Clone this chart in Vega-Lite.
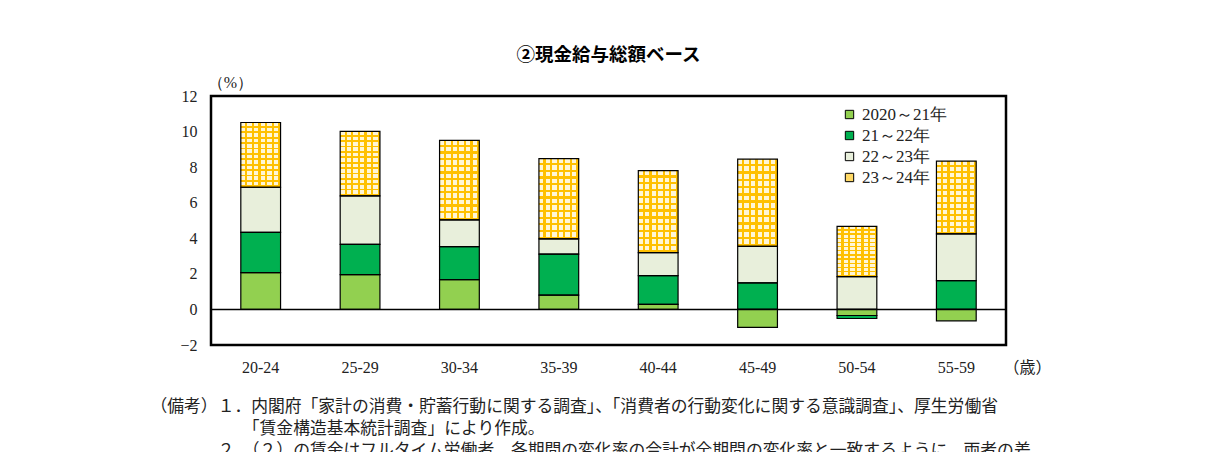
{
  "$schema": "https://vega.github.io/schema/vega-lite/v6.json",
  "autosize": {"type": "none"},
  "padding": {"left": 211, "top": 96, "right": 203, "bottom": 107},
  "width": 795,
  "height": 249,
  "background": "white",
  "title": {
    "text": "②現金給与総額ベース",
    "font": "Noto Sans CJK JP",
    "fontSize": 18.5,
    "fontWeight": "bold",
    "anchor": "middle",
    "offset": 10
  },
  "data": {
    "values": [
      {"age": "20-24", "period": "2020～21年", "value": 2.07},
      {"age": "20-24", "period": "21～22年", "value": 2.26},
      {"age": "20-24", "period": "22～23年", "value": 2.54},
      {"age": "20-24", "period": "23～24年", "value": 3.64},
      {"age": "25-29", "period": "2020～21年", "value": 1.96},
      {"age": "25-29", "period": "21～22年", "value": 1.70},
      {"age": "25-29", "period": "22～23年", "value": 2.73},
      {"age": "25-29", "period": "23～24年", "value": 3.62},
      {"age": "30-34", "period": "2020～21年", "value": 1.68},
      {"age": "30-34", "period": "21～22年", "value": 1.85},
      {"age": "30-34", "period": "22～23年", "value": 1.51},
      {"age": "30-34", "period": "23～24年", "value": 4.46},
      {"age": "35-39", "period": "2020～21年", "value": 0.80},
      {"age": "35-39", "period": "21～22年", "value": 2.31},
      {"age": "35-39", "period": "22～23年", "value": 0.86},
      {"age": "35-39", "period": "23～24年", "value": 4.51},
      {"age": "40-44", "period": "2020～21年", "value": 0.28},
      {"age": "40-44", "period": "21～22年", "value": 1.62},
      {"age": "40-44", "period": "22～23年", "value": 1.29},
      {"age": "40-44", "period": "23～24年", "value": 4.61},
      {"age": "45-49", "period": "2020～21年", "value": -1.01},
      {"age": "45-49", "period": "21～22年", "value": 1.49},
      {"age": "45-49", "period": "22～23年", "value": 2.05},
      {"age": "45-49", "period": "23～24年", "value": 4.91},
      {"age": "50-54", "period": "2020～21年", "value": -0.34},
      {"age": "50-54", "period": "21～22年", "value": -0.17},
      {"age": "50-54", "period": "22～23年", "value": 1.85},
      {"age": "50-54", "period": "23～24年", "value": 2.82},
      {"age": "55-59", "period": "2020～21年", "value": -0.64},
      {"age": "55-59", "period": "21～22年", "value": 1.62},
      {"age": "55-59", "period": "22～23年", "value": 2.63},
      {"age": "55-59", "period": "23～24年", "value": 4.09}
    ]
  },
  "layer": [
    {
      "mark": {"type": "bar", "strokeWidth": 0},
      "encoding": {
        "x": {
          "field": "age",
          "type": "nominal",
          "sort": null,
          "scale": {"paddingInner": 0.6, "paddingOuter": 0.3},
          "axis": {
            "labelAngle": 0,
            "labelFont": "Liberation Serif",
            "labelFontSize": 16,
            "labelColor": "#222",
            "labelPadding": 14,
            "ticks": false,
            "domain": false,
            "title": [
              "（備考）１．内閣府「家計の消費・貯蓄行動に関する調査」、「消費者の行動変化に関する意識調査」、厚生労働省",
              "\u200b　　　　　\u2002「賃金構造基本統計調査」により作成。",
              "\u200b　　　　２．（２）の賃金はフルタイム労働者。各期間の変化率の合計が全期間の変化率と一致するように、両者の差"
            ],
            "titleFont": "Noto Sans CJK JP",
            "titleFontSize": 16.8,
            "titleFontWeight": "normal",
            "titleColor": "#222",
            "titleAlign": "left",
            "titleBaseline": "top",
            "titleLineHeight": 22,
            "titleX": -61,
            "titleY": 53
          }
        },
        "y": {
          "field": "value",
          "type": "quantitative",
          "stack": "zero",
          "scale": {"domain": [-2, 12], "nice": false},
          "axis": {
            "values": [-2, 0, 2, 4, 6, 8, 10, 12],
            "labelFont": "Liberation Serif",
            "labelFontSize": 16,
            "labelColor": "#222",
            "labelPadding": 14,
            "ticks": false,
            "domain": false,
            "grid": false,
            "title": "（%）",
            "titleFont": "Liberation Serif",
            "titleFontSize": 16,
            "titleFontWeight": "normal",
            "titleColor": "#222",
            "titleAngle": 0,
            "titleAlign": "center",
            "titleBaseline": "middle",
            "titleX": 19,
            "titleY": -14
          }
        },
        "color": {
          "field": "period",
          "type": "nominal",
          "scale": {
            "domain": ["2020～21年", "21～22年", "22～23年", "23～24年"],
            "range": ["#92d050", "#00b050", "#e8efdb", "#ffd966"]
          },
          "legend": {
            "title": null,
            "orient": "none",
            "legendX": 630,
            "legendY": 10,
            "symbolType": "square",
            "symbolSize": 70,
            "symbolStrokeColor": "black",
            "symbolStrokeWidth": 1,
            "labelFont": "Liberation Serif",
            "labelFontSize": 17,
            "labelColor": "#222",
            "labelOffset": 4,
            "rowPadding": 3
          }
        },
        "order": {"field": "period"}
      }
    },
    {
      "mark": {"type": "bar", "strokeWidth": 0},
      "encoding": {
        "x": {"field": "age", "type": "nominal", "sort": null},
        "y": {"field": "value", "type": "quantitative", "stack": "zero", "axis": null},
        "detail": {"field": "period"},
        "order": {"field": "period"},
        "fill": {
          "condition": {
            "test": "datum.period === '23～24年'",
            "value": {
              "gradient": "linear", "x1": 0, "y1": 0, "x2": 1, "y2": 0,
              "stops": [
                {"offset": 0, "color": "#fff6d5"}, {"offset": 0.1111, "color": "#fff6d5"},
                {"offset": 0.1111, "color": "#ffc000"}, {"offset": 0.1667, "color": "#ffc000"},
                {"offset": 0.1667, "color": "#fff6d5"}, {"offset": 0.2778, "color": "#fff6d5"},
                {"offset": 0.2778, "color": "#ffc000"}, {"offset": 0.3333, "color": "#ffc000"},
                {"offset": 0.3333, "color": "#fff6d5"}, {"offset": 0.4444, "color": "#fff6d5"},
                {"offset": 0.4444, "color": "#ffc000"}, {"offset": 0.5, "color": "#ffc000"},
                {"offset": 0.5, "color": "#fff6d5"}, {"offset": 0.6111, "color": "#fff6d5"},
                {"offset": 0.6111, "color": "#ffc000"}, {"offset": 0.6667, "color": "#ffc000"},
                {"offset": 0.6667, "color": "#fff6d5"}, {"offset": 0.7778, "color": "#fff6d5"},
                {"offset": 0.7778, "color": "#ffc000"}, {"offset": 0.8333, "color": "#ffc000"},
                {"offset": 0.8333, "color": "#fff6d5"}, {"offset": 0.9444, "color": "#fff6d5"},
                {"offset": 0.9444, "color": "#ffc000"}, {"offset": 1, "color": "#ffc000"}
              ]
            }
          },
          "value": "transparent"
        }
      }
    },
    {
      "mark": {"type": "bar", "strokeWidth": 0},
      "encoding": {
        "x": {"field": "age", "type": "nominal", "sort": null},
        "y": {"field": "value", "type": "quantitative", "stack": "zero", "axis": null},
        "detail": {"field": "period"},
        "order": {"field": "period"},
        "fill": {
          "condition": {
            "test": "datum.period === '23～24年'",
            "value": {
              "gradient": "linear", "x1": 0, "y1": 0, "x2": 0, "y2": 1,
              "stops": [
                {"offset": 0, "color": "rgba(255,192,0,0)"}, {"offset": 0.0556, "color": "rgba(255,192,0,0)"},
                {"offset": 0.0556, "color": "#ffc000"}, {"offset": 0.0833, "color": "#ffc000"},
                {"offset": 0.0833, "color": "rgba(255,192,0,0)"}, {"offset": 0.1389, "color": "rgba(255,192,0,0)"},
                {"offset": 0.1389, "color": "#ffc000"}, {"offset": 0.1667, "color": "#ffc000"},
                {"offset": 0.1667, "color": "rgba(255,192,0,0)"}, {"offset": 0.2222, "color": "rgba(255,192,0,0)"},
                {"offset": 0.2222, "color": "#ffc000"}, {"offset": 0.25, "color": "#ffc000"},
                {"offset": 0.25, "color": "rgba(255,192,0,0)"}, {"offset": 0.3056, "color": "rgba(255,192,0,0)"},
                {"offset": 0.3056, "color": "#ffc000"}, {"offset": 0.3333, "color": "#ffc000"},
                {"offset": 0.3333, "color": "rgba(255,192,0,0)"}, {"offset": 0.3889, "color": "rgba(255,192,0,0)"},
                {"offset": 0.3889, "color": "#ffc000"}, {"offset": 0.4167, "color": "#ffc000"},
                {"offset": 0.4167, "color": "rgba(255,192,0,0)"}, {"offset": 0.4722, "color": "rgba(255,192,0,0)"},
                {"offset": 0.4722, "color": "#ffc000"}, {"offset": 0.5, "color": "#ffc000"},
                {"offset": 0.5, "color": "rgba(255,192,0,0)"}, {"offset": 0.5556, "color": "rgba(255,192,0,0)"},
                {"offset": 0.5556, "color": "#ffc000"}, {"offset": 0.5833, "color": "#ffc000"},
                {"offset": 0.5833, "color": "rgba(255,192,0,0)"}, {"offset": 0.6389, "color": "rgba(255,192,0,0)"},
                {"offset": 0.6389, "color": "#ffc000"}, {"offset": 0.6667, "color": "#ffc000"},
                {"offset": 0.6667, "color": "rgba(255,192,0,0)"}, {"offset": 0.7222, "color": "rgba(255,192,0,0)"},
                {"offset": 0.7222, "color": "#ffc000"}, {"offset": 0.75, "color": "#ffc000"},
                {"offset": 0.75, "color": "rgba(255,192,0,0)"}, {"offset": 0.8056, "color": "rgba(255,192,0,0)"},
                {"offset": 0.8056, "color": "#ffc000"}, {"offset": 0.8333, "color": "#ffc000"},
                {"offset": 0.8333, "color": "rgba(255,192,0,0)"}, {"offset": 0.8889, "color": "rgba(255,192,0,0)"},
                {"offset": 0.8889, "color": "#ffc000"}, {"offset": 0.9167, "color": "#ffc000"},
                {"offset": 0.9167, "color": "rgba(255,192,0,0)"}, {"offset": 0.9722, "color": "rgba(255,192,0,0)"},
                {"offset": 0.9722, "color": "#ffc000"}, {"offset": 1, "color": "#ffc000"}
              ]
            }
          },
          "value": "transparent"
        }
      }
    },
    {
      "mark": {"type": "bar", "fill": "transparent", "stroke": "black", "strokeWidth": 1.2},
      "encoding": {
        "x": {"field": "age", "type": "nominal", "sort": null},
        "y": {"field": "value", "type": "quantitative", "stack": "zero", "axis": null},
        "detail": {"field": "period"},
        "order": {"field": "period"}
      }
    },
    {
      "data": {"values": [{}]},
      "mark": {"type": "rule", "color": "black", "strokeWidth": 1.5},
      "encoding": {
        "y": {
          "datum": 0,
          "axis": {
            "orient": "right",
            "labels": false,
            "ticks": false,
            "domain": false,
            "grid": false,
            "title": "（歳）",
            "titleFont": "Noto Sans CJK JP",
            "titleFontSize": 16,
            "titleFontWeight": "normal",
            "titleColor": "#222",
            "titleAngle": 0,
            "titleAlign": "center",
            "titleBaseline": "middle",
            "titleX": 21,
            "titleY": 271
          }
        }
      }
    }
  ],
  "resolve": {"axis": {"y": "independent"}},
  "config": {
    "view": {"stroke": "black", "strokeWidth": 2.5}
  }
}
